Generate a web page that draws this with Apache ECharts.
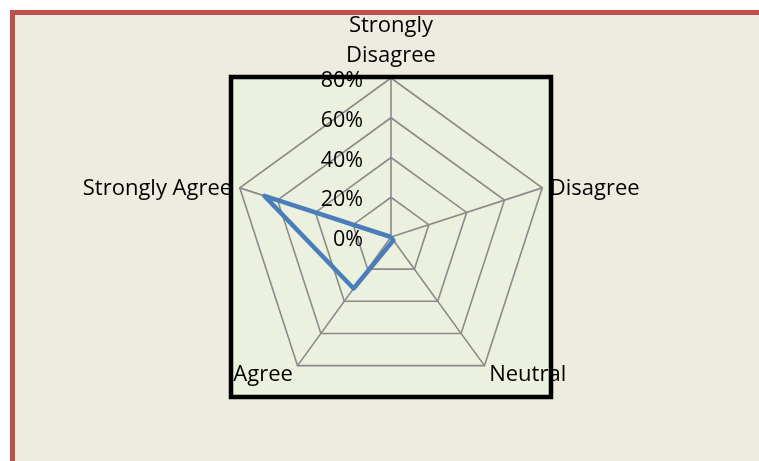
<!DOCTYPE html>
<html><head><meta charset="utf-8">
<script src="https://cdn.jsdelivr.net/npm/echarts@6/dist/echarts.min.js"></script>
<style>html,body{margin:0;padding:0;background:#fff}#c{width:759px;height:461px}</style>
</head><body><div id="c"></div>
<script>
// Categories in clockwise order starting from the top
const categories = ['Strongly\nDisagree', 'Disagree', 'Neutral', 'Agree', 'Strongly Agree'];
const values = [0, 0, 2, 32, 67];
const axisMax = 80;
const tickStep = 20;

// ECharts radar runs counter-clockwise: keep first, reverse the rest
const order = [0].concat(categories.map((_, i) => i).slice(1).reverse());
const radarNames = order.map(i => categories[i]);
const radarValues = order.map(i => values[i]);

const chart = echarts.init(document.getElementById('c'), null, {renderer: 'canvas'});
const FONT = 'Open Sans';
const richStyle = {
  t: {color: '#000', fontFamily: FONT, fontSize: 22, lineHeight: 31, padding: [6, 0, 0, 0]},
  v: {color: '#000', fontFamily: FONT, fontSize: 22, lineHeight: 30, padding: [2, 0, 0, 0]}
};
chart.setOption({
  backgroundColor: '#ffffff',
  animation: false,
  graphic: [
    {type: 'rect', z: -10, shape: {x: 12.5, y: 12.5, width: 800, height: 500}, style: {fill: '#EEEBE0'}},
    {type: 'rect', z: -9, shape: {x: 231, y: 77, width: 320, height: 320}, style: {fill: '#EBF1DE'}},
    {type: 'rect', z: 100, shape: {x: 231, y: 77, width: 320, height: 320}, style: {fill: null, stroke: '#000000', lineWidth: 4.5}},
    {type: 'rect', z: 100, shape: {x: 12.5, y: 12.5, width: 800, height: 500}, style: {fill: null, stroke: '#C0504D', lineWidth: 5}}
  ],
  radar: {
    center: [391, 237],
    radius: 159,
    startAngle: 90,
    splitNumber: 4,
    shape: 'polygon',
    nameGap: 8,
    axisName: {color: '#000', fontFamily: FONT, fontSize: 22, lineHeight: 31,
      formatter: n => {
        const parts = n.split('\n');
        const k = parts.length > 1 ? 'v' : 't';
        return parts.map(s => '{' + k + '|' + s + '}').join('\n');
      }, rich: richStyle},
    axisLine: {lineStyle: {color: '#8A8A8A', width: 1.6}},
    splitLine: {lineStyle: {color: '#8A8A8A', width: 1.6}},
    splitArea: {show: false},
    axisLabel: {show: false},
    indicator: radarNames.map((n, i) => {
      const o = {name: n, min: 0, max: axisMax, interval: tickStep};
      if (i === 0) o.axisLabel = {show: true, color: '#000', fontFamily: FONT, fontSize: 21.5, margin: 28,
        formatter: v => '{t|' + v + '%}', rich: {t: {color: '#000', fontFamily: FONT, fontSize: 21.5, padding: [6, 0, 0, 0]}}};
      return o;
    })
  },
  series: [{
    type: 'radar',
    symbol: 'none',
    lineStyle: {color: '#4A7EBB', width: 4.5},
    data: [{value: radarValues}]
  }]
});
</script></body></html>
